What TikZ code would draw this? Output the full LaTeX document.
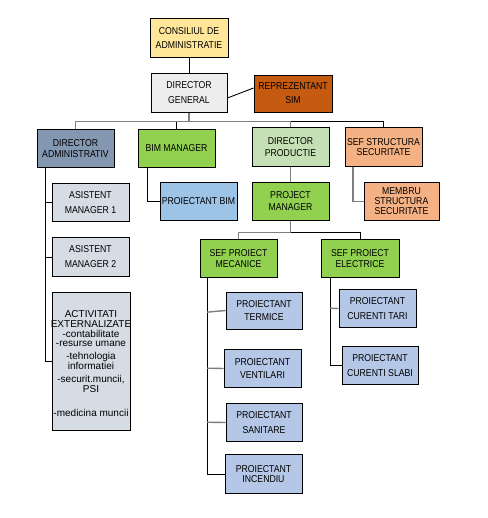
\documentclass[tikz,border=0pt]{standalone}
\usepackage{fontspec}
\setmainfont{Liberation Sans}[FakeStretch=0.87]
\newfontfamily\actfont{Liberation Sans}
\definecolor{cCons}{HTML}{FFE699}
\definecolor{cDG}{HTML}{EDEDED}
\definecolor{cSim}{HTML}{C55A11}
\definecolor{cDA}{HTML}{8497B0}
\definecolor{cGreen}{HTML}{92D050}
\definecolor{cPBim}{HTML}{9DC3E6}
\definecolor{cAsist}{HTML}{D6DCE4}
\definecolor{cDP}{HTML}{C5E0B4}
\definecolor{cOrange}{HTML}{F4B183}
\definecolor{cProj}{HTML}{B4C7E7}
\definecolor{cLine}{HTML}{7F7F7F}
\tikzset{
  box/.style={draw=black, line width=0.9pt, minimum width=77pt, minimum height=38.5pt,
    inner sep=0pt, align=center, font=\fontsize{10}{11}\selectfont},
  blk/.style={draw=black, line width=0.9pt},
  gry/.style={draw=cLine, line width=1.4pt},
}
\begin{document}
\begin{tikzpicture}[x=1pt,y=-1pt]
\useasboundingbox[fill=white] (0,0) rectangle (487,518);
% nodes
\node[box, fill=cCons, minimum width=78pt] (cons) at (189,38) {CONSILIUL DE\\[3pt]ADMINISTRATIE};
\node[box, fill=cDG, minimum width=76pt] (dg) at (189,93) {DIRECTOR\\[4pt]GENERAL};
\node[box, fill=cSim, minimum width=78pt, minimum height=37pt] (sim) at (293,93.5) {REPREZENTANT\\[3pt]SIM};
\node[box, fill=cDA] (da) at (75.5,148.5) {DIRECTOR\\[0.5pt]ADMINISTRATIV};
\node[box, fill=cGreen] (bim) at (176.5,148.5) {BIM MANAGER};
\node[box, fill=cPBim] (pbim) at (198.5,201.5) {PROIECTANT BIM};
\node[box, fill=cAsist] (am1) at (90.5,202.5) {ASISTENT\\[4pt]MANAGER 1};
\node[box, fill=cAsist] (am2) at (90.5,257) {ASISTENT\\[4pt]MANAGER 2};
\node[box, fill=cAsist, minimum width=78pt, minimum height=138pt] (act) at (91,361) {};
\node[inner sep=0pt, align=center, font=\actfont\fontsize{10}{9.7}\selectfont] (acttext) at (91,363.5)
  {ACTIVITATI\\EXTERNALIZATE\\-contabilitate\\-resurse umane\\[3.5pt]-tehnologia\\informatiei\\[3.5pt]-securit.muncii,\\PSI\\[14pt]-medicina muncii};
\node[box, fill=cDP] (dp) at (290.5,147) {DIRECTOR\\[0.3pt]PRODUCTIE};
\node[box, fill=cOrange] (sss) at (383.5,147) {SEF STRUCTURA\\[-0.3pt]SECURITATE};
\node[box, fill=cGreen] (pm) at (290.5,201.5) {PROJECT\\[1pt]MANAGER};
\node[box, fill=cOrange, minimum width=75pt] (mss) at (401.5,201.5) {MEMBRU\\[-1pt]STRUCTURA\\[-1pt]SECURITATE};
\node[box, fill=cGreen] (spm) at (238.5,258.5) {SEF PROIECT\\[-0.3pt]MECANICE};
\node[box, fill=cGreen, minimum width=78pt] (spe) at (360,258.5) {SEF PROIECT\\[-0.3pt]ELECTRICE};
\node[box, fill=cProj, minimum width=76pt, minimum height=37pt] (pt) at (264,310.5) {PROIECTANT\\[2.3pt]TERMICE};
\node[box, fill=cProj] (pv) at (262.5,368.5) {PROIECTANT\\[2.3pt]VENTILARI};
\node[box, fill=cProj, minimum width=76pt] (ps) at (264,422.5) {PROIECTANT\\[3.3pt]SANITARE};
\node[box, fill=cProj] (pi) at (263.5,474) {PROIECTANT\\[-0.3pt]INCENDIU};
\node[box, fill=cProj] (pct) at (377.5,308.5) {PROIECTANT\\[4pt]CURENTI TARI};
\node[box, fill=cProj, minimum width=76pt] (pcs) at (380,365.5) {PROIECTANT\\[4pt]CURENTI SLABI};
% connectors
\draw[blk] (cons) -- (dg);
\draw[blk] ([yshift=-5pt]dg.east) -- ([yshift=5.5pt]sim.west);
\draw[blk] (dg.south) -- ++(0,9) -| (sss.north);
\draw[blk] (dg.south) -- ++(0,9) -| (bim.north);
\draw[gry] (dg.south) -- ++(0,9) -| (da.north);
\draw[gry] (dg.south) ++(0,9) -| (dp.north);
\draw[blk] ([xshift=-29.5pt]bim.south) |- (pbim.west);
\draw[blk] ([xshift=-30.5pt]da.south) |- (act.west);
\draw[blk] ([xshift=-30.5pt]da.south) |- (am1.west);
\draw[blk] ([xshift=-30.5pt]da.south) |- (am2.west);
\draw[gry] (dp) -- (pm);
\draw[gry] ([xshift=-30.5pt]sss.south) |- (mss.west);
\draw[blk] (pm.south) -- ++(0,11) -| (spe.north);
\draw[gry] (pm.south) -- ++(0,11) -| (spm.north);
\draw[blk] ([xshift=-31.5pt]spm.south) |- (pi.west);
\draw[gry] ([xshift=-31.5pt]spm.south) ++(0,34) -- (pt.west);
\draw[gry] ([xshift=-31.5pt]spm.south) ++(0,90) -- (pv.west);
\draw[gry] ([xshift=-31.5pt]spm.south) ++(0,144) -- (ps.west);
\draw[blk] ([xshift=-30pt]spe.south) |- (pcs.west);
\draw[gry] ([xshift=-30pt]spe.south) ++(0,30) -- (pct.west);
\end{tikzpicture}
\end{document}
